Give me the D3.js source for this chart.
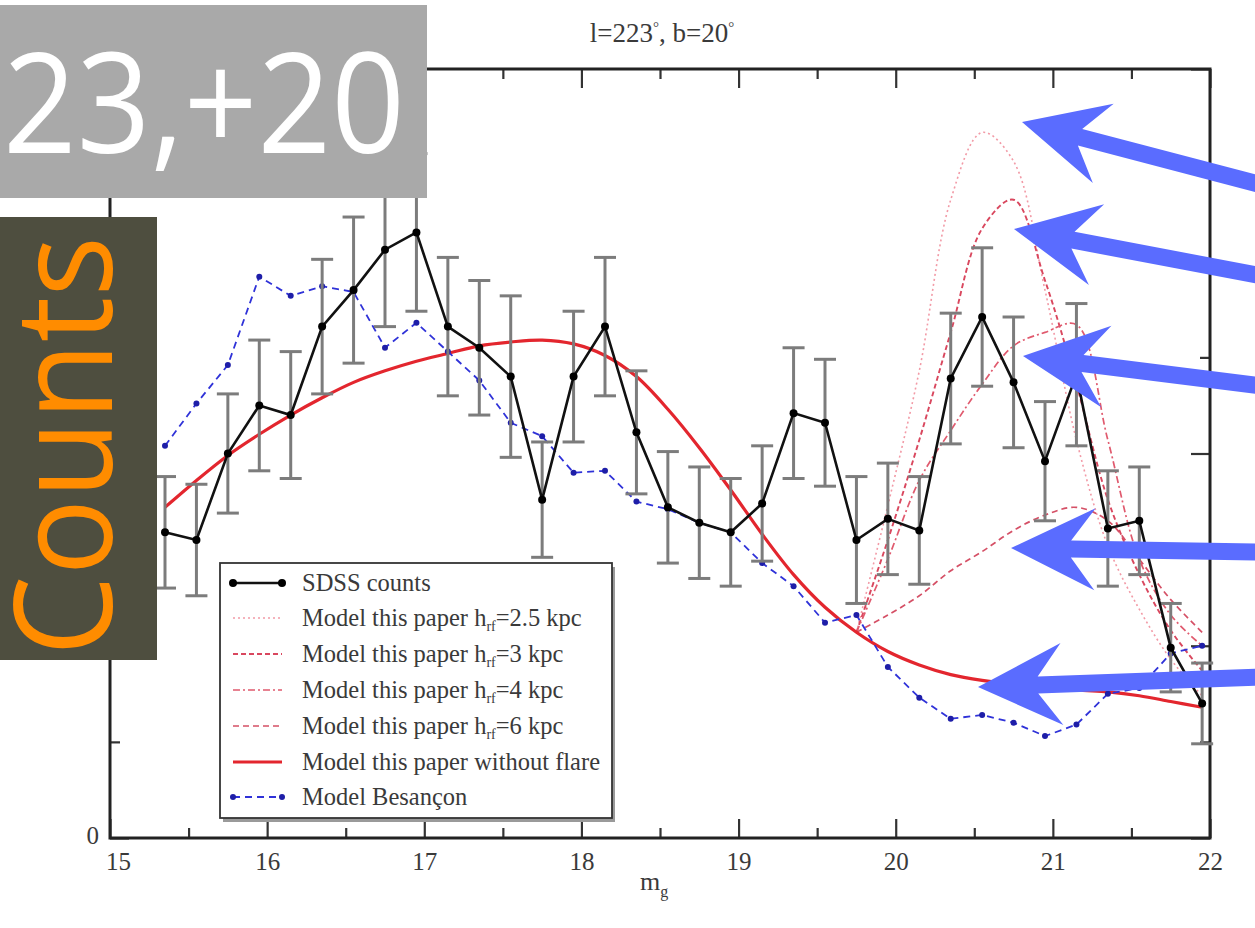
<!DOCTYPE html>
<html><head><meta charset="utf-8">
<script src="https://cdn.jsdelivr.net/npm/d3@7/dist/d3.min.js"></script>
<style>body{margin:0;background:#fff;} svg{display:block}</style>
</head><body>
<svg id="chart" width="1255" height="928"></svg>
<script>
// ---------- data ----------
const mags = [15.35,15.55,15.75,15.95,16.15,16.35,16.55,16.75,16.95,17.15,17.35,17.55,17.75,17.95,18.15,18.35,18.55,18.75,18.95,19.15,19.35,19.55,19.75,19.95,20.15,20.35,20.55,20.75,20.95,21.15,21.35,21.55,21.75,21.95];
const sdssCounts = [159,155,200,225,220,266,285,306,315,266,255,240,176,240,266,211,172,164,159,174,221,216,155,166,160,239,271,237,196,241,161,165,99,70];
const sdssErr = [29,29,31,34,33,35,38,40,41,36,35,42,30,34,36,32,29,29,28,30,34,33,33,29,28,34,36,34,31,37,30,28,23,21];
const besancon = [204,226,246,292,282,287,284,255,268,253,238,216,209,190,191,175,171,164,159,143,131,112,116,89,73,62,64,60,53,59,75,78,96,100];
const noFlare = [172,186,199,210,220,229,237,243,248,252,256,258,259,257,251,240,223,203,181,158,137,120,107,97,90,85,82,80,79,77,76,74,71,68];
const flareMags = [19.75,19.95,20.15,20.35,20.55,20.75,20.95,21.15,21.35,21.55,21.75,21.95];
const flare25 = [107,173,243,332,367,352,285,207,152,119,93,74];
const flare3  = [107,155,207,263,317,332,290,236,176,137,108,87];
const flare4  = [107,145,186,212,236,256,263,267,207,145,116,100];
const flare6  = [107,116,126,139,149,160,168,172,165,145,124,107];
const xMajorTicks = [15,16,17,18,19,20,21,22];
const xMinorTicks = [15.5,16.5,17.5,18.5,19.5,20.5,21.5];
const yMajorTicks = [0,100,200,300,400];
const yMinorTicks = [50,150,250,350];
const legendLabels = ["SDSS counts","Model this paper h","Model this paper h","Model this paper h","Model this paper h","Model this paper without flare","Model Besançon"];
const legendSuffix = ["","=2.5 kpc","=3 kpc","=4 kpc","=6 kpc","",""];
const overlayLabel = "23,+20";
const sideLabel = "Counts";

// ---------- layout ----------
const svg = d3.select("#chart");
const L = 110, R = 1210, T = 69, B = 838;
const x = d3.scaleLinear().domain([15,22]).range([L,R]);
const y = d3.scaleLinear().domain([0,400]).range([B,T]);
const serif = "'Liberation Serif','Times New Roman',serif";
const textCol = "#3a3a3a";

function axisG(gen, tx, ty){ return svg.append("g").attr("transform",`translate(${tx},${ty})`).call(gen).call(g=>g.select(".domain").remove()); }
const majLen = 19, minLen = 10;
const bx = axisG(d3.axisBottom(x).tickValues(xMajorTicks).tickSize(-majLen).tickPadding(14).tickFormat(d3.format("d")),0,B);
axisG(d3.axisBottom(x).tickValues(xMinorTicks).tickSize(-minLen).tickFormat(""),0,B);
axisG(d3.axisTop(x).tickValues(xMajorTicks).tickSize(-majLen).tickFormat(""),0,T);
axisG(d3.axisTop(x).tickValues(xMinorTicks).tickSize(-minLen).tickFormat(""),0,T);
// y labels other than 0 lie under the overlay panels in the reference, so only 0 is printed
const ly = axisG(d3.axisLeft(y).tickValues(yMajorTicks).tickSize(-majLen).tickPadding(11).tickFormat(d=>d===0?"0":""),L,0);
axisG(d3.axisLeft(y).tickValues(yMinorTicks).tickSize(-minLen).tickFormat(""),L,0);
axisG(d3.axisRight(y).tickValues(yMajorTicks).tickSize(-majLen).tickFormat(""),R,0);
axisG(d3.axisRight(y).tickValues(yMinorTicks).tickSize(-minLen).tickFormat(""),R,0);
svg.selectAll(".tick line").attr("stroke","#333").attr("stroke-width",2.2);
svg.selectAll(".tick text").attr("font-family",serif).attr("font-size",25).attr("fill",textCol);
ly.selectAll(".tick text").attr("dy","0.2em");
bx.selectAll(".tick text").filter(d=>d===15).attr("dx",8);

svg.append("rect").attr("x",L).attr("y",T).attr("width",R-L).attr("height",B-T)
  .attr("fill","none").attr("stroke","#222").attr("stroke-width",3);

// title
const title = svg.append("text").attr("x",662).attr("y",42).attr("text-anchor","middle")
  .attr("font-family",serif).attr("font-size",27).attr("fill",textCol);
title.append("tspan").text("l=223");
title.append("tspan").attr("dy",-10).attr("font-size",15).text("°");
title.append("tspan").attr("dy",10).text(", b=20");
title.append("tspan").attr("dy",-10).attr("font-size",15).text("°");

// x label
const xl = svg.append("text").attr("x",640).attr("y",890).attr("font-family",serif).attr("font-size",26).attr("fill",textCol);
xl.append("tspan").text("m");
xl.append("tspan").attr("dy",7).attr("font-size",16).text("g");

// ---------- curves ----------
const sdss = mags.map((m,i)=>({m, v:sdssCounts[i], e:sdssErr[i]}));
const bes = mags.map((m,i)=>({m, v:besancon[i]}));
const nof = mags.map((m,i)=>({m, v:noFlare[i]}));
const mk = arr => flareMags.map((m,i)=>({m, v:arr[i]}));
const lineSmooth = d3.line().x(d=>x(d.m)).y(d=>y(d.v)).curve(d3.curveCatmullRom.alpha(0.5));
const lineLin = d3.line().x(d=>x(d.m)).y(d=>y(d.v));

const flareStyles = [
  {data:mk(flare25), color:"#f29aa6", dash:"2,3", w:1.6},
  {data:mk(flare3),  color:"#d9475e", dash:"5,3", w:1.9},
  {data:mk(flare4),  color:"#e05a6e", dash:"7,3,2,3", w:1.7},
  {data:mk(flare6),  color:"#d55066", dash:"6,4", w:1.7},
];
flareStyles.forEach(s=>{
  svg.append("path").attr("d",lineSmooth(s.data)).attr("fill","none")
    .attr("stroke",s.color).attr("stroke-width",s.w).attr("stroke-dasharray",s.dash);
});
svg.append("path").attr("d",lineSmooth(nof)).attr("fill","none").attr("stroke","#e3262e").attr("stroke-width",3.2);

svg.append("path").attr("d",lineLin(bes)).attr("fill","none").attr("stroke","#2f32d8").attr("stroke-width",1.8).attr("stroke-dasharray","7,5");
svg.selectAll(".bes").data(bes).join("circle").attr("cx",d=>x(d.m)).attr("cy",d=>y(d.v)).attr("r",3).attr("fill","#1e1ea8");

const eb = svg.append("g").attr("stroke","#7c7c7c").attr("stroke-width",3);
sdss.forEach(d=>{
  const cx = x(d.m), y1 = y(d.v+d.e), y2 = y(d.v-d.e);
  eb.append("line").attr("x1",cx).attr("x2",cx).attr("y1",y1).attr("y2",y2);
  eb.append("line").attr("x1",cx-11).attr("x2",cx+11).attr("y1",y1).attr("y2",y1);
  eb.append("line").attr("x1",cx-11).attr("x2",cx+11).attr("y1",y2).attr("y2",y2);
});
svg.append("path").attr("d",lineLin(sdss)).attr("fill","none").attr("stroke","#111").attr("stroke-width",2.6);
svg.selectAll(".sd").data(sdss).join("circle").attr("cx",d=>x(d.m)).attr("cy",d=>y(d.v)).attr("r",4).attr("fill","#000");

// ---------- legend ----------
const lg = svg.append("g");
lg.append("rect").attr("x",223).attr("y",567).attr("width",392).attr("height",255).attr("fill","#9a9a9a");
lg.append("rect").attr("x",220).attr("y",563).attr("width",392).attr("height",255).attr("fill","#fff").attr("stroke","#333").attr("stroke-width",1.8);
const rowY = [583,618,654,690,726,762,797];
const legStyles = [
  {color:"#111", w:2.6, dash:null, dots:"#000"},
  {color:"#f29aa6", w:1.6, dash:"2,3"},
  {color:"#d9475e", w:1.9, dash:"5,3"},
  {color:"#e05a6e", w:1.7, dash:"7,3,2,3"},
  {color:"#d55066", w:1.7, dash:"6,4"},
  {color:"#e3262e", w:3.2, dash:null},
  {color:"#2f32d8", w:1.8, dash:"7,5", dots:"#1e1ea8"},
];
legendLabels.forEach((lab,i)=>{
  const s = legStyles[i], yy = rowY[i];
  const ln = lg.append("line").attr("x1",233).attr("x2",282).attr("y1",yy).attr("y2",yy)
    .attr("stroke",s.color).attr("stroke-width",s.w);
  if(s.dash) ln.attr("stroke-dasharray",s.dash);
  if(s.dots){ [233,282].forEach(px=>lg.append("circle").attr("cx",px).attr("cy",yy).attr("r",i===0?4:3).attr("fill",s.dots)); }
  const t = lg.append("text").attr("x",302).attr("y",yy+8).attr("font-family",serif).attr("font-size",24.5).attr("fill",textCol);
  t.append("tspan").text(lab);
  if(legendSuffix[i]){
    t.append("tspan").attr("dy",5).attr("font-size",14).text("rf");
    t.append("tspan").attr("dy",-5).text(legendSuffix[i]);
  }
});

// ---------- overlays ----------
const sans = "'Open Sans','Noto Sans',sans-serif";
svg.append("rect").attr("x",0).attr("y",5).attr("width",427).attr("height",193).attr("fill","#a9a9a9");
svg.append("text").attr("x",3).attr("y",153).attr("font-family",sans)
  .attr("font-size",140).attr("fill","#fff").attr("textLength",402).attr("lengthAdjust","spacingAndGlyphs").text(overlayLabel);
svg.append("rect").attr("x",0).attr("y",217).attr("width",157).attr("height",443).attr("fill","#4e4e3f");
svg.append("text").attr("transform","translate(112,656) rotate(-90)").attr("font-family",sans)
  .attr("font-size",136).attr("fill","#ff8c00").attr("textLength",420).attr("lengthAdjust","spacingAndGlyphs").text(sideLabel);

const arrows = [
  {tip:[1022,122], tail:[1262,185]},
  {tip:[1014,229], tail:[1262,276]},
  {tip:[1023,356], tail:[1262,386]},
  {tip:[1011,548], tail:[1262,552]},
  {tip:[978,687],  tail:[1262,677]},
];
const HL = 84, HW = 41, NB = 60, SW = 8.5;
arrows.forEach(a=>{
  const [tx,ty] = a.tip, [ex,ey] = a.tail;
  const len = Math.hypot(ex-tx, ey-ty), ux=(ex-tx)/len, uy=(ey-ty)/len, nx=-uy, ny=ux;
  const P = (al,pe)=>[tx+ux*al+nx*pe, ty+uy*al+ny*pe];
  const pts = [P(0,0),P(HL,HW),P(NB,SW),[ex+nx*SW,ey+ny*SW],[ex-nx*SW,ey-ny*SW],P(NB,-SW),P(HL,-HW)];
  svg.append("polygon").attr("points",pts.map(p=>p.join(",")).join(" ")).attr("fill","#5a6cff");
});
</script>
</body></html>
